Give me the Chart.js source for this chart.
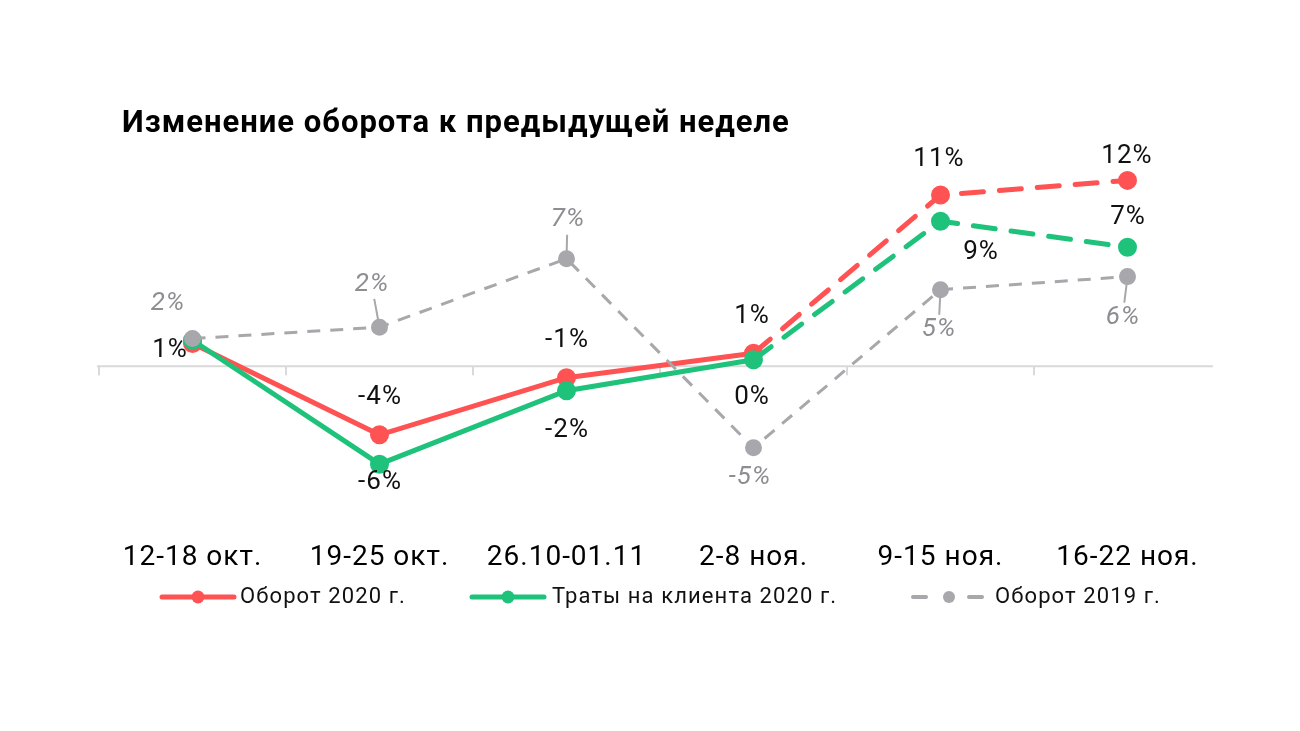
<!DOCTYPE html>
<html>
<head>
<meta charset="utf-8">
<script src="https://cdn.jsdelivr.net/npm/chart.js@4.4.1/dist/chart.umd.min.js"></script>
<style>
html,body{margin:0;padding:0;background:#fff;}
#wrap{width:1300px;height:731px;}
</style>
</head>
<body>
<div id="wrap"><canvas id="c" width="1300" height="731"></canvas></div>
<script>
const categories = ['12-18 окт.', '19-25 окт.', '26.10-01.11', '2-8 ноя.', '9-15 ноя.', '16-22 ноя.'];
const turnover2020 = [1.4, -4.2, -0.7, 0.8, 10.5, 11.4];
const spendPerClient2020 = [1.6, -6.0, -1.5, 0.4, 8.9, 7.3];
const turnover2019 = [1.7, 2.4, 6.6, -5.0, 4.7, 5.5];
const turnover2020Labels = ['1%', '-4%', '-1%', '1%', '11%', '12%'];
const spendPerClient2020Labels = [null, '-6%', '-2%', '0%', '9%', '7%'];
const turnover2019Labels = ['2%', '2%', '7%', '-5%', '5%', '6%'];
const seriesNames = ['Оборот 2020 г.', 'Траты на клиента 2020 г.', 'Оборот 2019 г.'];
const titleText = 'Изменение оборота к предыдущей неделе';

const RED = '#FF5353', GREEN = '#1EC27B', GRAY = '#A7A7AC';
const FONT = 'Roboto, "Noto Sans", sans-serif';

// label placement (style, not data)
const labelStyle = [
  {color:'#111', italic:false, offsets:[[-23,7],[0,-37],[0,-37],[-2,-37],[-2,-36],[-1,-24]], leaders:[]},
  {color:'#111', italic:false, offsets:[null,[0,18],[0,40],[-2,38],[40,31],[0,-30]], leaders:[]},
  {color:'#8E8E92', italic:true, offsets:[[-25,-35],[-8,-43],[1,-39],[-4,30],[-2,40],[-5,41]], leaders:[1,2,4,5]}
];
const labelTexts = [turnover2020Labels, spendPerClient2020Labels, turnover2019Labels];

const decorPlugin = {
  id: 'decor',
  beforeDraw(chart) {
    chart.ctx.letterSpacing = '1px';
  },
  beforeDatasetsDraw(chart) {
    const ctx = chart.ctx, x = chart.scales.x, y = chart.scales.y;
    const y0 = y.getPixelForValue(0);
    const n = categories.length;
    const half = (x.getPixelForValue(1) - x.getPixelForValue(0)) / 2;
    ctx.save();
    ctx.strokeStyle = '#D9D9D9';
    ctx.lineWidth = 2;
    ctx.beginPath();
    ctx.moveTo(x.getPixelForValue(0) - half - 2, y0);
    ctx.lineTo(x.getPixelForValue(n - 1) + half - 8, y0);
    for (let i = 0; i < n; i++) {
      const bx = x.getPixelForValue(i) - half;
      ctx.moveTo(bx, y0);
      ctx.lineTo(bx, y0 + 9);
    }
    ctx.stroke();
    ctx.restore();
  },
  afterDatasetsDraw(chart) {
    const ctx = chart.ctx;
    ctx.save();
    ctx.textAlign = 'center';
    ctx.textBaseline = 'middle';
    ctx.letterSpacing = '1px';
    chart.data.datasets.forEach((ds, di) => {
      const meta = chart.getDatasetMeta(di);
      const st = labelStyle[di];
      meta.data.forEach((pt, i) => {
        const txt = labelTexts[di][i];
        const off = st.offsets[i];
        if (!txt || !off) return;
        const lx = pt.x + off[0], ly = pt.y + off[1];
        if (st.leaders.includes(i)) {
          const d = Math.hypot(off[0], off[1]);
          const ux = off[0] / d, uy = off[1] / d;
          ctx.strokeStyle = GRAY;
          ctx.lineWidth = 2;
          ctx.beginPath();
          ctx.moveTo(pt.x + ux * 4, pt.y + uy * 4);
          ctx.lineTo(pt.x + ux * (d - 15), pt.y + uy * (d - 15));
          ctx.stroke();
        }
        ctx.fillStyle = st.color;
        ctx.font = (st.italic ? 'italic ' : '') + '26px ' + FONT;
        ctx.fillText(txt, lx + 0.5, ly);
      });
    });
    ctx.restore();
  },
  afterDraw(chart) {
    const ctx = chart.ctx;
    ctx.save();
    // title
    ctx.fillStyle = '#000';
    ctx.letterSpacing = '1px';
    ctx.font = 'bold 31px ' + FONT;
    ctx.textAlign = 'left';
    ctx.textBaseline = 'middle';
    ctx.fillText(titleText, 122, 124);
    // legend
    const ly = 597;
    const solid = [{x:160, color:RED}, {x:470, color:GREEN}];
    solid.forEach(it => {
      ctx.strokeStyle = it.color;
      ctx.lineWidth = 5;
      ctx.lineCap = 'round';
      ctx.beginPath();
      ctx.moveTo(it.x + 2, ly);
      ctx.lineTo(it.x + 74, ly);
      ctx.stroke();
      ctx.fillStyle = it.color;
      ctx.beginPath();
      ctx.arc(it.x + 38, ly, 6.5, 0, Math.PI * 2);
      ctx.fill();
    });
    // dashed gray icon
    ctx.strokeStyle = GRAY;
    ctx.lineWidth = 4;
    ctx.lineCap = 'round';
    ctx.beginPath();
    ctx.moveTo(913, ly); ctx.lineTo(926, ly);
    ctx.moveTo(969, ly); ctx.lineTo(982, ly);
    ctx.stroke();
    ctx.fillStyle = GRAY;
    ctx.beginPath();
    ctx.arc(949, ly, 6, 0, Math.PI * 2);
    ctx.fill();
    ctx.fillStyle = '#111';
    ctx.font = '22px ' + FONT;
    ctx.letterSpacing = '1.1px';
    ctx.textAlign = 'left';
    ctx.fillText(seriesNames[0], 240, ly);
    ctx.fillText(seriesNames[1], 552, ly);
    ctx.fillText(seriesNames[2], 995, ly);
    ctx.restore();
  }
};

const dashAfter3 = ctx => ctx.p0DataIndex >= 3 ? [22, 16] : undefined;

new Chart(document.getElementById('c'), {
  type: 'line',
  data: {
    labels: categories,
    datasets: [
      {label: seriesNames[0], data: turnover2020, borderColor: RED, backgroundColor: RED,
       borderWidth: 5, pointRadius: 7, pointHoverRadius: 7, borderCapStyle: 'round', order: 2,
       segment: {borderDash: dashAfter3}},
      {label: seriesNames[1], data: spendPerClient2020, borderColor: GREEN, backgroundColor: GREEN,
       borderWidth: 5, pointRadius: 7, pointHoverRadius: 7, borderCapStyle: 'round', order: 1,
       segment: {borderDash: dashAfter3}},
      {label: seriesNames[2], data: turnover2019, borderColor: GRAY, backgroundColor: GRAY,
       borderWidth: 3, pointRadius: 7, pointHoverRadius: 7, borderDash: [13, 10], order: 0}
    ]
  },
  options: {
    responsive: false,
    animation: false,
    devicePixelRatio: 1,
    layout: {padding: {left: 99, right: 79, top: 138, bottom: 144}},
    plugins: {legend: {display: false}, title: {display: false}, tooltip: {enabled: false}},
    elements: {line: {tension: 0}, point: {borderWidth: 0}},
    scales: {
      x: {
        offset: true,
        grid: {display: false, drawTicks: false},
        border: {display: false},
        ticks: {color: '#000', padding: 12, font: {family: FONT, size: 28}}
      },
      y: {display: false, min: -10, max: 14}
    }
  },
  plugins: [decorPlugin]
});
</script>
</body>
</html>
